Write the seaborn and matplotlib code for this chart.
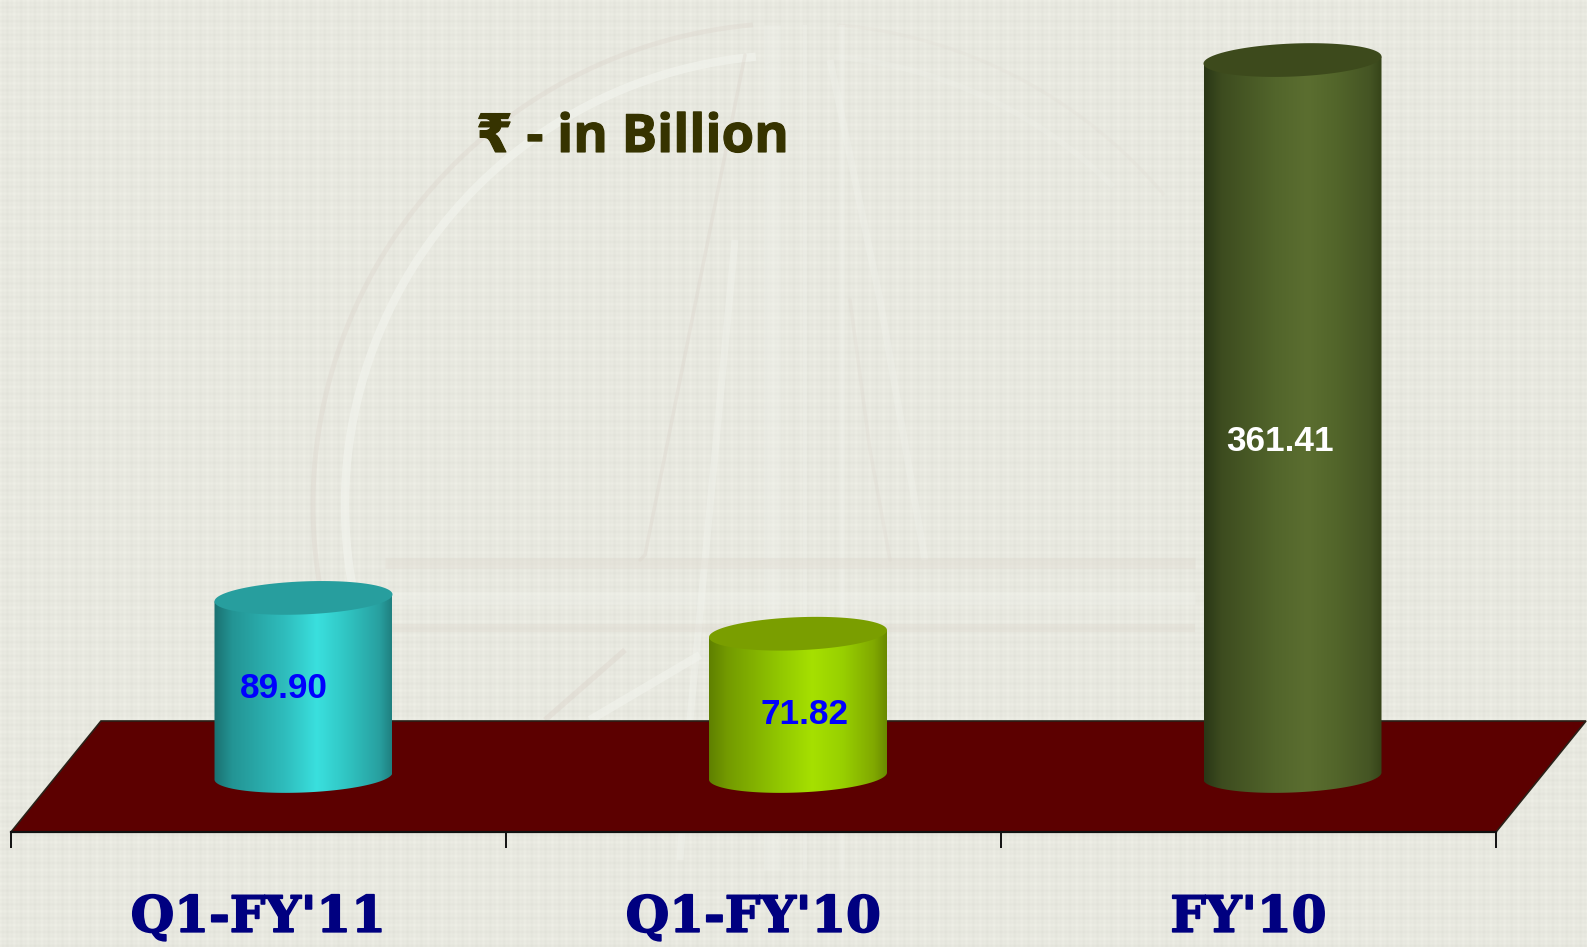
import numpy as np
import matplotlib
matplotlib.use('Agg')
import matplotlib.pyplot as plt
import matplotlib.patheffects as pe
import seaborn as sns
from matplotlib.colors import LinearSegmentedColormap
from matplotlib.patches import Polygon

# data
categories = ["Q1-FY'11", "Q1-FY'10", "FY'10"]
values = [89.90, 71.82, 361.41]
value_labels = ['89.90', '71.82', '361.41']
unit_label = '₹ - in Billion'

# colours
side_colors = ['#2bb8b8', '#96cc00', '#4f6229']
top_colors = ['#279e9e', '#7a9e00', '#3d4a1c']
label_colors = ['#0000ff', '#0000ff', '#ffffff']
gradients = [
    ['#1a7070', '#239494', '#2fbdbd', '#3ae0de', '#30c4c2', '#28a0a0', '#1f8080'],
    ['#5f8000', '#739a00', '#92c800', '#a6e000', '#98d000', '#80a800', '#6a8a00'],
    ['#2a3716', '#3d4c1f', '#52652b', '#5b6e30', '#52652a', '#455524', '#364419'],
]
stops = [0, 0.1, 0.4, 0.58, 0.75, 0.93, 1]

W, H = 1587, 947
sns.set_theme(style='white')
fig = plt.figure(figsize=(W / 100, H / 100), dpi=100)

# ========== background, pixel coordinates ==========
bg = fig.add_axes([0, 0, 1, 1])
bg.set_xlim(0, W)
bg.set_ylim(H, 0)
bg.axis('off')

xx, yy = np.meshgrid(np.arange(W), np.arange(H))
cloth = (232 + 1.7 * np.cos(2 * np.pi * xx / 4.6) + 1.7 * np.cos(2 * np.pi * yy / 4.6)
         + 1.6 * np.cos(2 * np.pi * xx / 13.8) + 1.6 * np.cos(2 * np.pi * yy / 13.8))
texture = np.dstack([cloth, cloth + 0.5, cloth - 8]).clip(0, 255).astype(np.uint8)
bg.imshow(texture, extent=(0, W, H, 0), aspect='auto', interpolation='bilinear', zorder=0)


def logo_arc(radius, start, end, **kw):
    a = np.radians(np.linspace(start, end, 200))
    bg.plot(795 + radius * np.cos(a), 505 - radius * np.sin(a), solid_capstyle='butt', zorder=1, **kw)


# faint logo behind the chart
logo_arc(482, 95, 190, color='#d9cfc6', lw=3.5, alpha=0.3)
logo_arc(482, 40, 85, color='#d9cfc6', lw=2.5, alpha=0.12)
logo_arc(450, 95, 190, color='#f3f5ef', lw=6, alpha=0.6)
logo_arc(450, 45, 85, color='#f3f5ef', lw=4, alpha=0.2)
bg.plot([745, 645, 640], [55, 555, 560], color='#d9cfc6', lw=2.5, alpha=0.3, zorder=1)
bg.plot([735, 690, 680], [240, 720, 860], color='#f3f5ef', lw=5, alpha=0.4, solid_capstyle='butt', zorder=1)
bg.plot([830, 880, 925], [60, 300, 560], color='#f3f5ef', lw=5, alpha=0.3, solid_capstyle='butt', zorder=1)
bg.plot([850, 870, 890], [300, 450, 560], color='#d9cfc6', lw=2.5, alpha=0.2, zorder=1)
for px_x, lw in zip([772, 805, 842], [12, 3, 4]):
    bg.plot([px_x, px_x], [25, 870], color='#f2f4ee', lw=lw, alpha=0.3, solid_capstyle='butt', zorder=1)
for px_y, col, lw in zip([563, 598, 628], ['#ddd6cc', '#f3f5ef', '#ddd6cc'], [8, 9, 6]):
    bg.plot([385, 1195], [px_y, px_y], color=col, lw=lw, alpha=0.3, solid_capstyle='butt', zorder=1)
bg.plot([545, 625], [720, 650], color='#d9cfc6', lw=4, alpha=0.35, solid_capstyle='butt', zorder=1)
bg.plot([590, 700], [720, 655], color='#f3f5ef', lw=6, alpha=0.5, solid_capstyle='butt', zorder=1)

# floor
floor_px = [(11, 832), (101, 721), (1586, 721), (1496, 832)]
bg.add_patch(Polygon(floor_px, closed=True, fc='#5c0000', ec='#2a2018', lw=1.2, zorder=2))

bg.text(476, 152, unit_label, fontsize=38, fontweight='bold', color='#363300',
        family=['Open Sans', 'DejaVu Sans'], va='baseline', ha='left', zorder=6,
        path_effects=[pe.withStroke(linewidth=0.8, foreground='#363300')])

# ========== category axis along the floor front edge ==========
ax_x = fig.add_axes([11 / W, (H - 832) / H, 1485 / W, 0.01])
ax_x.patch.set_alpha(0)
ax_x.set_xlim(-0.5, 2.5)
ax_x.set_yticks([])
for side in ['top', 'left', 'right']:
    ax_x.spines[side].set_visible(False)
ax_x.spines['bottom'].set_color('#111111')
ax_x.spines['bottom'].set_linewidth(1.6)
ax_x.set_xticks([-0.5, 0.5, 1.5, 2.5], labels=[])
ax_x.set_xticks([0, 1, 2], labels=categories, minor=True)
ax_x.tick_params(axis='x', which='major', bottom=True, length=11.5, width=1.4, color='#111111')
ax_x.tick_params(axis='x', which='minor', bottom=False, length=0, pad=44.5)
for t in ax_x.get_xticklabels(minor=True):
    t.set_family('DejaVu Serif')
    t.set_fontweight('bold')
    t.set_fontsize(36)
    t.set_color('#000080')
    t.set_path_effects([pe.withStroke(linewidth=1.2, foreground='#000080')])

# ========== cylinders ==========
px_per_cat = 494.5
px_per_val = 1.981
ax = fig.add_axes([0, 0, 1, 1])
ax.patch.set_alpha(0)
sns.barplot(x=categories, y=values, hue=categories, palette=side_colors,
            width=178 / px_per_cat, legend=False, saturation=1, ax=ax, zorder=3)

ell_h = 33 / px_per_val
tilt = 3.5 / px_per_val
label_dx = [-20, 7, -12]
label_dy = [-2, -10, -23]
theta = np.linspace(0, 2 * np.pi, 160)
bars = [p for p in ax.patches]
for i, p in enumerate(bars):
    x0, w, h = p.get_x(), p.get_width(), p.get_height()
    cx = x0 + w / 2
    ring_x = cx + w / 2 * np.cos(theta)
    ring_y = ell_h / 2 * np.sin(theta) + tilt * np.cos(theta)
    lower = theta >= np.pi
    cmap = LinearSegmentedColormap.from_list(f'cyl{i}', list(zip(stops, gradients[i])))
    im = ax.imshow(np.linspace(0, 1, 256)[None, :], cmap=cmap, aspect='auto',
                   extent=(x0, x0 + w, -ell_h, h + ell_h), zorder=4, interpolation='bilinear')
    outline = np.vstack([[x0, h - tilt],
                         np.column_stack([ring_x[lower], ring_y[lower]]),
                         [x0 + w, h + tilt]])
    im.set_clip_path(Polygon(outline, closed=True, transform=ax.transData))
    p.set_visible(False)
    ax.add_patch(Polygon(np.column_stack([ring_x, h + ring_y]), closed=True,
                         fc=top_colors[i], ec='none', zorder=5))
    ax.annotate(value_labels[i], (cx, h / 2), xytext=(label_dx[i] * 0.72, label_dy[i] * 0.72),
                textcoords='offset points', ha='center', va='center', fontsize=25.3,
                fontweight='bold', family='Liberation Sans', color=label_colors[i], zorder=6)

ax.set_xlim(-303.5 / px_per_cat, (W - 303.5) / px_per_cat)
ax.set_ylim(-(H - 776) / px_per_val, 776 / px_per_val)
ax.axis('off')

fig.savefig('out.png', dpi=100)
